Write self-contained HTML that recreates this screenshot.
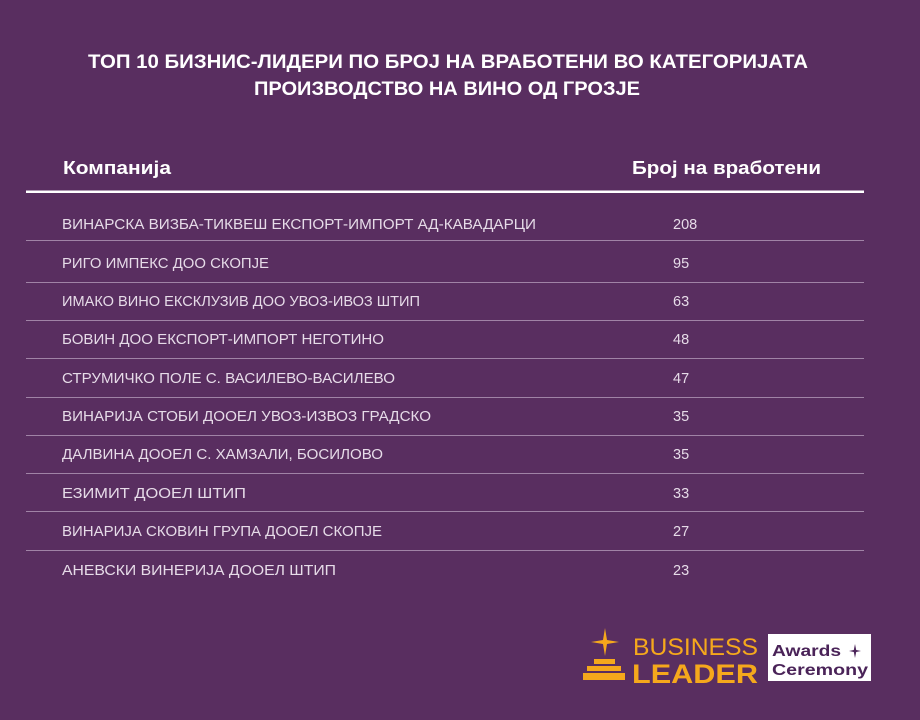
<!DOCTYPE html>
<html><head><meta charset="utf-8"><style>
html,body{margin:0;padding:0;background:#592e60;}
svg{display:block}
</style></head><body>
<svg width="920" height="720" viewBox="0 0 920 720" xmlns="http://www.w3.org/2000/svg" font-family="Liberation Sans, DejaVu Sans, sans-serif">
<rect width="920" height="720" fill="#592e60"/>
<g fill="#ffffff" font-weight="bold" font-size="19">
<text x="88" y="68" textLength="720" lengthAdjust="spacingAndGlyphs">ТОП 10 БИЗНИС-ЛИДЕРИ ПО БРОЈ НА ВРАБОТЕНИ ВО КАТЕГОРИЈАТА</text>
<text x="254" y="95" textLength="386" lengthAdjust="spacingAndGlyphs">ПРОИЗВОДСТВО НА ВИНО ОД ГРОЗЈЕ</text>
</g>
<g fill="#ffffff" font-weight="bold" font-size="18">
<text x="63" y="174" textLength="108" lengthAdjust="spacingAndGlyphs">Компанија</text>
<text x="632" y="174" textLength="189" lengthAdjust="spacingAndGlyphs">Број на вработени</text>
</g>
<rect x="26" y="190.5" width="838" height="2.5" fill="#ffffff"/>
<g stroke="#a083a6" stroke-width="1">
<line x1="26" y1="240.5" x2="864" y2="240.5"/>
<line x1="26" y1="282.5" x2="864" y2="282.5"/>
<line x1="26" y1="320.5" x2="864" y2="320.5"/>
<line x1="26" y1="358.5" x2="864" y2="358.5"/>
<line x1="26" y1="397.5" x2="864" y2="397.5"/>
<line x1="26" y1="435.5" x2="864" y2="435.5"/>
<line x1="26" y1="473.5" x2="864" y2="473.5"/>
<line x1="26" y1="511.5" x2="864" y2="511.5"/>
<line x1="26" y1="550.5" x2="864" y2="550.5"/>
</g>
<g fill="#e6dbe8" font-size="14.5">
<text x="62" y="229" textLength="474" lengthAdjust="spacingAndGlyphs">ВИНАРСКА ВИЗБА-ТИКВЕШ ЕКСПОРТ-ИМПОРТ АД-КАВАДАРЦИ</text>
<text x="62" y="268" textLength="207" lengthAdjust="spacingAndGlyphs">РИГО ИМПЕКС ДОО СКОПЈЕ</text>
<text x="62" y="306" textLength="358" lengthAdjust="spacingAndGlyphs">ИМАКО ВИНО ЕКСКЛУЗИВ ДОО УВОЗ-ИВОЗ ШТИП</text>
<text x="62" y="344" textLength="322" lengthAdjust="spacingAndGlyphs">БОВИН ДОО ЕКСПОРТ-ИМПОРТ НЕГОТИНО</text>
<text x="62" y="383" textLength="333" lengthAdjust="spacingAndGlyphs">СТРУМИЧКО ПОЛЕ С. ВАСИЛЕВО-ВАСИЛЕВО</text>
<text x="62" y="421" textLength="369" lengthAdjust="spacingAndGlyphs">ВИНАРИЈА СТОБИ ДООЕЛ УВОЗ-ИЗВОЗ ГРАДСКО</text>
<text x="62" y="459" textLength="321" lengthAdjust="spacingAndGlyphs">ДАЛВИНА ДООЕЛ С. ХАМЗАЛИ, БОСИЛОВО</text>
<text x="62" y="498" textLength="184" lengthAdjust="spacingAndGlyphs">ЕЗИМИТ ДООЕЛ ШТИП</text>
<text x="62" y="536" textLength="320" lengthAdjust="spacingAndGlyphs">ВИНАРИЈА СКОВИН ГРУПА ДООЕЛ СКОПЈЕ</text>
<text x="62" y="575" textLength="274" lengthAdjust="spacingAndGlyphs">АНЕВСКИ ВИНЕРИЈА ДООЕЛ ШТИП</text>
<text x="673" y="229">208</text>
<text x="673" y="268">95</text>
<text x="673" y="306">63</text>
<text x="673" y="344">48</text>
<text x="673" y="383">47</text>
<text x="673" y="421">35</text>
<text x="673" y="459">35</text>
<text x="673" y="498">33</text>
<text x="673" y="536">27</text>
<text x="673" y="575">23</text>
</g>
<g fill="#f5a81c">
<path d="M605 628 L607 640 L619 642 L607 644 L605 656 L603 644 L591 642 L603 640 Z"/>
<rect x="594" y="659" width="21" height="5"/>
<rect x="587" y="666" width="34" height="5"/>
<rect x="583" y="673" width="42" height="7"/>
<text x="633" y="655" font-size="24" textLength="125" lengthAdjust="spacingAndGlyphs">BUSINESS</text>
<text x="632" y="683" font-size="27" font-weight="bold" textLength="126" lengthAdjust="spacingAndGlyphs">LEADER</text>
</g>
<rect x="768" y="634" width="103" height="47" fill="#ffffff"/>
<g fill="#4a2358" font-weight="bold" font-size="16">
<text x="772" y="656" textLength="69" lengthAdjust="spacingAndGlyphs">Awards</text>
<text x="772" y="675" textLength="96" lengthAdjust="spacingAndGlyphs">Ceremony</text>
<path d="M855 644 L856.2 650 L861 651 L856.2 652 L855 658 L853.8 652 L849 651 L853.8 650 Z"/>
</g>
</svg>
</body></html>
